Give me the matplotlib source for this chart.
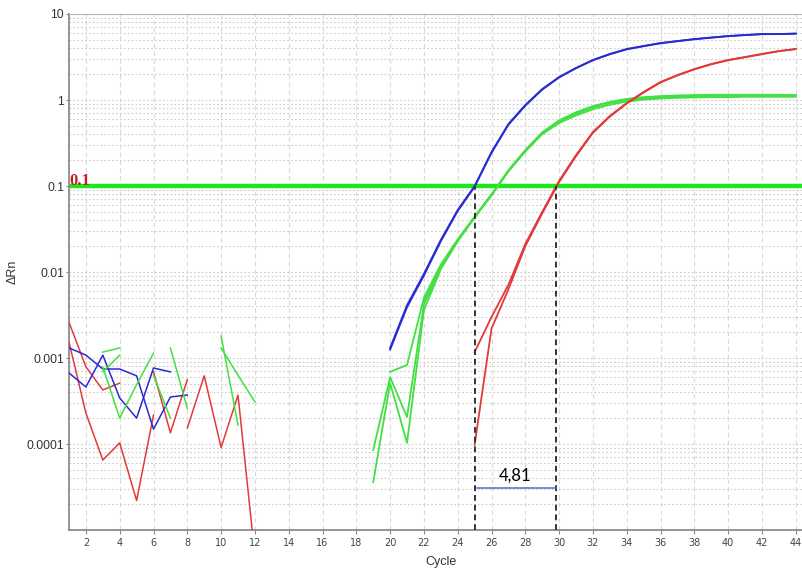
import matplotlib.pyplot as plt
from matplotlib.ticker import LogLocator, NullFormatter

# amplification curves (cycle -> delta Rn)
blue_cyc = list(range(20, 45))
blue_1 = [1.31e-3, 4.1e-3, 9.5e-3, 0.0236, 0.0526, 0.100, 0.248, 0.526, 0.875, 1.34,
          1.85, 2.36, 2.92, 3.43, 3.92, 4.25, 4.60, 4.85, 5.12, 5.33,
          5.55, 5.70, 5.85, 5.85, 5.93]
blue_2 = [1.25e-3, 3.9e-3, 9.1e-3, 0.0228, 0.0512, 0.098, 0.243, 0.515, 0.86, 1.32,
          1.83, 2.34, 2.90, 3.40, 3.88, 4.22, 4.56, 4.82, 5.08, 5.30,
          5.52, 5.68, 5.82, 5.84, 5.90]

red_cyc = list(range(25, 45))
red_1 = [1.17e-3, 3.0e-3, 7.1e-3, 0.0212, 0.050, 0.115, 0.229, 0.425, 0.652, 0.923,
         1.24, 1.62, 1.95, 2.29, 2.62, 2.92, 3.16, 3.43, 3.71, 3.92]
red_2 = [9.8e-5, 2.2e-3, 6.3e-3, 0.0200, 0.048, 0.111, 0.222, 0.415, 0.640, 0.910,
         1.22, 1.60, 1.93, 2.27, 2.60, 2.90, 3.14, 3.41, 3.69, 3.90]

green_a_cyc = list(range(19, 45))
green_a = [8.5e-5, 6.0e-4, 2.06e-4, 4.2e-3, 0.0112, 0.0230, 0.0430, 0.078, 0.148, 0.252,
           0.40, 0.54, 0.66, 0.78, 0.88, 0.96, 1.01, 1.04, 1.06, 1.07,
           1.08, 1.08, 1.09, 1.09, 1.09, 1.09]
green_b_cyc = list(range(19, 45))
green_b = [3.6e-5, 5.1e-4, 1.03e-4, 3.6e-3, 0.0108, 0.0228, 0.0432, 0.079, 0.150, 0.258,
           0.41, 0.56, 0.69, 0.82, 0.92, 1.00, 1.05, 1.08, 1.10, 1.11,
           1.12, 1.12, 1.13, 1.13, 1.13, 1.12]
green_c_cyc = list(range(20, 45))
green_c = [6.9e-4, 8.3e-4, 5.0e-3, 0.0122, 0.0240, 0.0440, 0.080, 0.152, 0.262, 0.42,
           0.58, 0.72, 0.85, 0.95, 1.03, 1.08, 1.11, 1.13, 1.14, 1.15,
           1.15, 1.15, 1.15, 1.15, 1.14]
green_d_cyc = list(range(22, 45))
green_d = [4.6e-3, 0.0118, 0.0235, 0.0437, 0.079, 0.150, 0.256, 0.415, 0.57, 0.70,
           0.83, 0.93, 1.01, 1.06, 1.09, 1.11, 1.12, 1.13, 1.13, 1.14,
           1.14, 1.14, 1.13]

# baseline noise, broken where the log scale drops values
red_noise = [
    ([1, 2, 3, 4], [2.6e-3, 7.9e-4, 4.25e-4, 5.1e-4]),
    ([1, 2, 3, 4, 5, 6], [1.53e-3, 2.29e-4, 6.5e-5, 1.03e-4, 2.2e-5, 2.17e-4]),
    ([6, 7, 8], [6.9e-4, 1.35e-4, 5.6e-4]),
    ([8, 9, 10, 11, 12], [1.53e-4, 6.2e-4, 9.1e-5, 3.7e-4, 5e-6]),
]
blue_noise = [
    ([1, 2, 3, 4, 5, 6, 7, 8], [1.31e-3, 1.08e-3, 7.45e-4, 7.45e-4, 6.2e-4, 1.49e-4, 3.52e-4, 3.71e-4]),
    ([1, 2, 3, 4, 5, 6, 7], [6.7e-4, 4.6e-4, 1.08e-3, 3.43e-4, 2.0e-4, 7.65e-4, 6.9e-4]),
]
green_noise = [
    ([3, 4], [1.17e-3, 1.31e-3]),
    ([3, 4], [6.9e-4, 1.08e-3]),
    ([3, 4, 5, 6], [7.85e-4, 2.0e-4, 4.9e-4, 1.14e-3]),
    ([6, 7], [6.3e-4, 2.0e-4]),
    ([7, 8], [1.31e-3, 2.6e-4]),
    ([10, 11], [1.8e-3, 1.66e-4]),
    ([10, 11, 12], [1.31e-3, 6.3e-4, 3.1e-4]),
]

threshold = 0.1
ct_blue = 25.0
ct_red = 29.81
delta_ct = ct_red - ct_blue

yticks = [1e-4, 1e-3, 1e-2, 1e-1, 1, 10]
ytick_labels = ['0.0001', '0.001', '0.01', '0.1', '1', '10']

BLUE = '#2a2ad2'
RED = '#e23a3a'
GREEN = '#42e042'

fig = plt.figure(figsize=(8.03, 5.70), dpi=100)
ax = fig.add_axes([69 / 803, 40 / 570, 734 / 803, 516 / 570])
ax.set_yscale('log')
ax.set_xlim(1, 44.43)
ax.set_ylim(1e-5, 10)

# grid
ax.set_xticks(range(2, 45, 2))
ax.set_yticks(yticks)
ax.set_yticklabels(ytick_labels)
ax.yaxis.set_minor_locator(LogLocator(base=10, subs=range(2, 10), numticks=20))
ax.yaxis.set_minor_formatter(NullFormatter())
ax.grid(which='major', axis='x', color='#d9d9d9', lw=0.8, ls=(0, (4, 3)))
ax.grid(which='both', axis='y', color='#cccccc', lw=0.8, ls=(0, (1.5, 2)))
ax.set_axisbelow(True)

ax.tick_params(axis='y', which='major', labelsize=8.7, labelcolor='#333333', length=2, pad=1.5, color='#888888')
ax.tick_params(axis='y', which='minor', length=0)
ax.tick_params(axis='x', labelsize=7, labelcolor='#444444', length=3, pad=2.5, color='#888888')
for lab in ax.get_xticklabels():
    lab.set_family(['Liberation Sans Narrow', 'DejaVu Sans'])
for lab in ax.get_yticklabels():
    lab.set_family('Liberation Sans')

for s in ['left', 'bottom']:
    ax.spines[s].set_color('#8c8c8c')
    ax.spines[s].set_linewidth(1.3)
ax.spines['top'].set_color('#b5b5b5')
ax.spines['right'].set_visible(False)

ax.set_xlabel('Cycle', fontsize=9, family='Liberation Sans', color='#333333', va='center')
ax.xaxis.set_label_coords((441 - 69) / 734, (530 - 562) / 516)
ax.set_ylabel('ΔRn', fontsize=9, family='Liberation Sans', color='#333333', va='center')
ax.yaxis.set_label_coords((13 - 69) / 734, 0.5)

# threshold
ax.axhline(threshold, color='#1ee61e', lw=3.2, zorder=2)
ax.text(1.05, 0.103, '0.1', color='#c81e1e', fontsize=12, fontweight='bold',
        family='Liberation Serif', va='baseline', zorder=5)

# noise
for x, y in red_noise:
    ax.plot(x, y, color=RED, lw=1.1, zorder=3)
for x, y in blue_noise:
    ax.plot(x, y, color=BLUE, lw=1.1, zorder=3)
for x, y in green_noise:
    ax.plot(x, y, color=GREEN, lw=1.1, zorder=3)

# curves
ax.plot(green_a_cyc, green_a, color=GREEN, lw=1.3, zorder=3)
ax.plot(green_b_cyc, green_b, color=GREEN, lw=1.3, zorder=3)
ax.plot(green_c_cyc, green_c, color=GREEN, lw=1.3, zorder=3)
ax.plot(green_d_cyc, green_d, color=GREEN, lw=1.3, zorder=3)
ax.plot(red_cyc, red_1, color=RED, lw=1.3, zorder=3)
ax.plot(red_cyc, red_2, color=RED, lw=1.3, zorder=3)
ax.plot(blue_cyc, blue_1, color=BLUE, lw=1.3, zorder=3)
ax.plot(blue_cyc, blue_2, color=BLUE, lw=1.3, zorder=3)

# Ct markers and delta
for ct in [ct_blue, ct_red]:
    ax.plot([ct, ct], [1e-5, threshold], color='#333333', lw=1.4, ls=(0, (3, 2)), zorder=4)
ax.plot([ct_blue + 0.12, ct_red], [3.1e-5, 3.1e-5], color='#4472c4', lw=1.1, zorder=4)
ax.text((ct_blue + ct_red) / 2, 3.8e-5, f'{delta_ct:.2f}'.replace('.', ','),
        ha='center', va='baseline', fontsize=12, family='Lato', color='black', zorder=5)

fig.savefig('out.png', dpi=100)
